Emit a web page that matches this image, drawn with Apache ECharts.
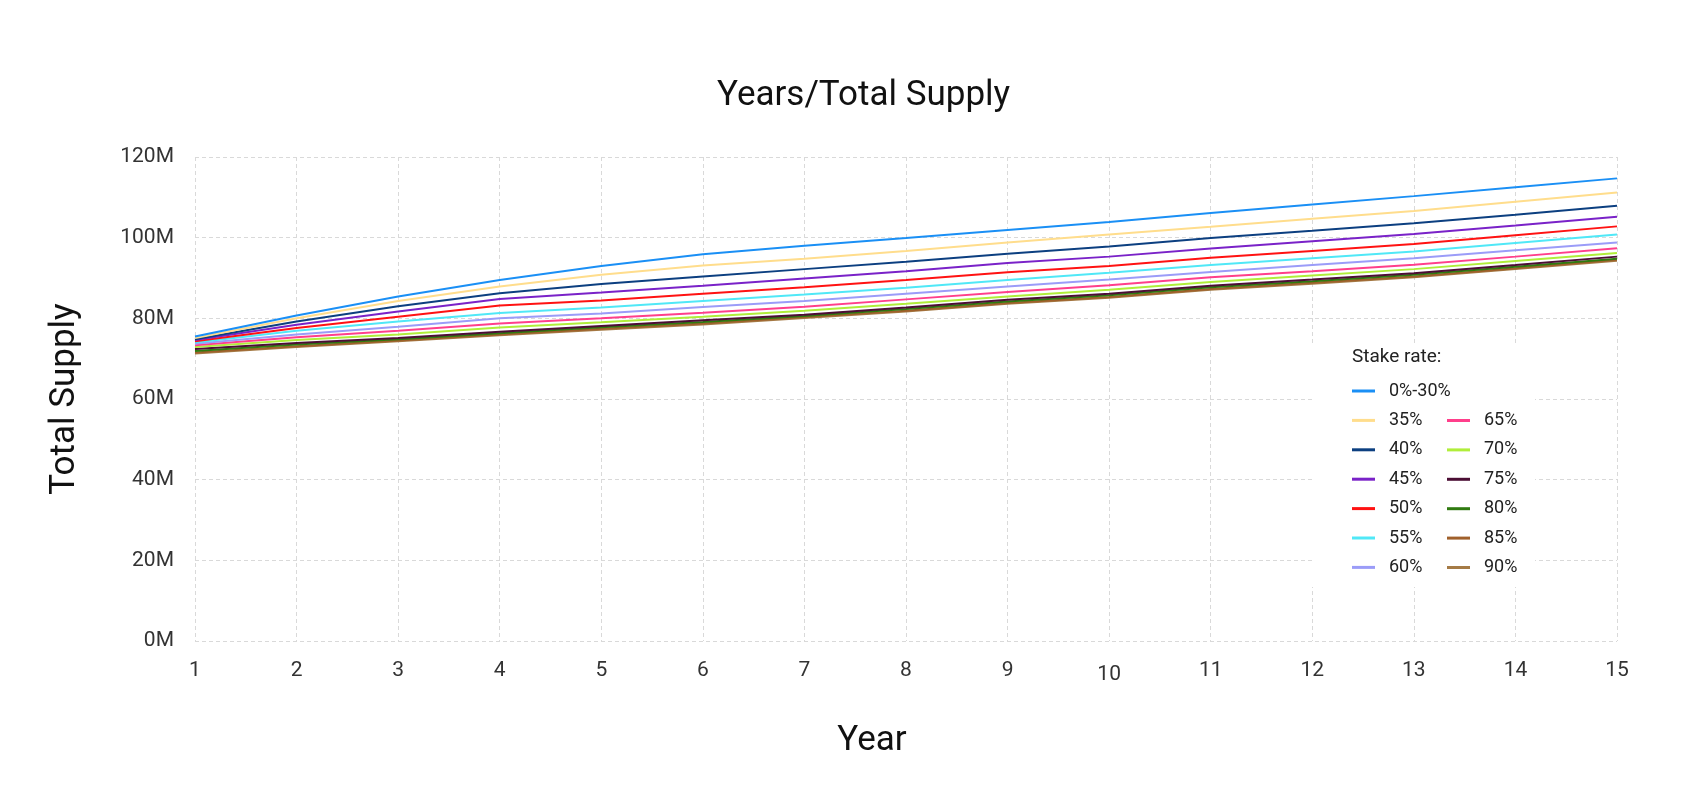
<!DOCTYPE html>
<html>
<head>
<meta charset="utf-8">
<title>Years/Total Supply</title>
<script src="https://cdn.jsdelivr.net/npm/echarts@6/dist/echarts.min.js"></script>
<style>
  html, body { margin: 0; padding: 0; background: #fff; }
  #chart { width: 1707px; height: 801px; }
</style>
</head>
<body>
<div id="chart"></div>
<script>
// x axis: years
var years = [1, 2, 3, 4, 5, 6, 7, 8, 9, 10, 11, 12, 13, 14, 15];
var yTicks = [0, 20, 40, 60, 80, 100, 120]; // millions

// total supply per stake rate, in millions
var s0_30 = [75.5, 80.7, 85.4, 89.5, 93.0, 95.9, 98.0, 99.9, 101.9, 103.9, 106.1, 108.2, 110.3, 112.5, 114.7];
var s35 = [75.1, 80.0, 84.3, 87.9, 90.8, 93.1, 94.8, 96.7, 98.8, 100.8, 102.7, 104.7, 106.6, 108.9, 111.2];
var s40 = [74.8, 79.2, 83.0, 86.2, 88.5, 90.4, 92.2, 94.0, 96.0, 97.8, 99.9, 101.7, 103.6, 105.7, 107.9];
var s45 = [74.6, 78.4, 81.7, 84.8, 86.4, 88.1, 89.9, 91.7, 93.7, 95.3, 97.3, 99.1, 100.9, 103.0, 105.2];
var s50 = [74.3, 77.6, 80.4, 83.2, 84.4, 86.1, 87.7, 89.5, 91.4, 93.0, 95.0, 96.7, 98.4, 100.6, 102.8];
var s55 = [74.0, 76.9, 79.2, 81.3, 82.7, 84.3, 85.9, 87.6, 89.5, 91.3, 93.2, 94.9, 96.6, 98.7, 100.8];
var s60 = [73.7, 76.0, 77.9, 80.0, 81.2, 82.8, 84.3, 86.1, 87.9, 89.6, 91.5, 93.2, 94.9, 96.9, 98.8];
var s65 = [73.3, 75.3, 76.9, 78.7, 80.0, 81.4, 82.9, 84.7, 86.5, 88.2, 90.2, 91.7, 93.3, 95.3, 97.4];
var s70 = [72.9, 74.6, 76.0, 77.7, 79.0, 80.4, 81.9, 83.6, 85.4, 87.1, 89.0, 90.6, 92.2, 94.2, 96.2];
var s75 = [72.4, 73.9, 75.1, 76.7, 78.1, 79.5, 80.9, 82.7, 84.6, 86.1, 88.1, 89.6, 91.2, 93.2, 95.3];
var s80 = [71.9, 73.5, 74.8, 76.3, 77.8, 79.1, 80.6, 82.3, 84.2, 85.7, 87.7, 89.2, 90.8, 92.8, 94.8];
var s85 = [71.5, 73.1, 74.5, 76.0, 77.4, 78.7, 80.3, 81.9, 83.8, 85.3, 87.3, 88.8, 90.4, 92.4, 94.5];
var s90 = [71.3, 72.9, 74.3, 75.8, 77.2, 78.5, 80.1, 81.7, 83.6, 85.1, 87.1, 88.6, 90.2, 92.2, 94.3];

var names = ['0%-30%', '35%', '40%', '45%', '50%', '55%', '60%', '65%', '70%', '75%', '80%', '85%', '90%'];
var values = [s0_30, s35, s40, s45, s50, s55, s60, s65, s70, s75, s80, s85, s90];
var colors = ['#1a8ff5', '#ffdd8c', '#0c3f80', '#7a22c8', '#ff1212', '#50e8f7', '#9b9cf8',
              '#ff3f8b', '#b0ee3a', '#4b0e34', '#2f7a10', '#a0602b', '#a57b46'];

var chart = echarts.init(document.getElementById('chart'));

var series = names.map(function (n, i) {
  return {
    name: n,
    type: 'line',
    data: values[i],
    showSymbol: false,
    symbol: 'none',
    lineStyle: { width: 2, color: colors[i] },
    itemStyle: { color: colors[i] },
    z: 20 - i
  };
});

// legend swatch is a short flat bar, like a line sample
var legendBase = {
  orient: 'vertical',
  padding: 0,
  icon: 'rect',
  itemWidth: 23,
  itemHeight: 3,
  itemGap: 11.4,
  textStyle: { fontSize: 18, color: '#222', fontFamily: 'Roboto', padding: [0, 0, 0, 9] },
  selectedMode: false
};

chart.setOption({
  backgroundColor: '#fff',
  textStyle: { fontFamily: 'Roboto' },
  animation: false,
  color: colors,
  title: {
    text: 'Years/Total Supply',
    left: 712,
    top: 74,
    textStyle: { fontSize: 35, fontWeight: 'normal', color: '#111', fontFamily: 'Roboto' }
  },
  grid: { left: 195, right: 90, top: 157, bottom: 160 },
  xAxis: {
    type: 'category',
    data: years,
    boundaryGap: false,
    name: 'Year',
    nameLocation: 'middle',
    nameGap: 83,
    nameTextStyle: { fontSize: 35, color: '#111', padding: [0, 68, 0, 0] },
    axisLine: { show: false },
    axisTick: { show: false },
    axisLabel: {
      fontSize: 21, color: '#333', margin: 19,
      formatter: function (v) { return v === '10' || v === 10 ? '{low|10}' : v; },
      rich: { low: { fontSize: 21, color: '#333', padding: [4, 0, 0, 0] } }
    },
    splitLine: { show: true, lineStyle: { color: '#d9d9d9', type: [4, 3], width: 1 } }
  },
  yAxis: {
    type: 'value',
    min: yTicks[0],
    max: yTicks[yTicks.length - 1],
    interval: 20,
    name: 'Total Supply',
    nameLocation: 'middle',
    nameGap: 112,
    nameTextStyle: { fontSize: 35, color: '#111' },
    axisLine: { show: false },
    axisTick: { show: false },
    axisLabel: { fontSize: 21, color: '#333', margin: 21, formatter: '{value}M' },
    splitLine: { show: true, lineStyle: { color: '#d9d9d9', type: [4, 3], width: 1 } }
  },
  legend: [
    Object.assign({}, legendBase, { data: names.slice(0, 7), left: 1352, top: 382 }),
    Object.assign({}, legendBase, { data: names.slice(7), left: 1447, top: 411.5 })
  ],
  graphic: [
    { type: 'rect', left: 1312, top: 343, z: 1, shape: { width: 223, height: 244 }, style: { fill: '#fff' } },
    { type: 'text', left: 1352, top: 348, z: 5, style: { text: 'Stake rate:', fontSize: 19, fill: '#222', fontFamily: 'Roboto' } }
  ],
  series: series
});
</script>
</body>
</html>
